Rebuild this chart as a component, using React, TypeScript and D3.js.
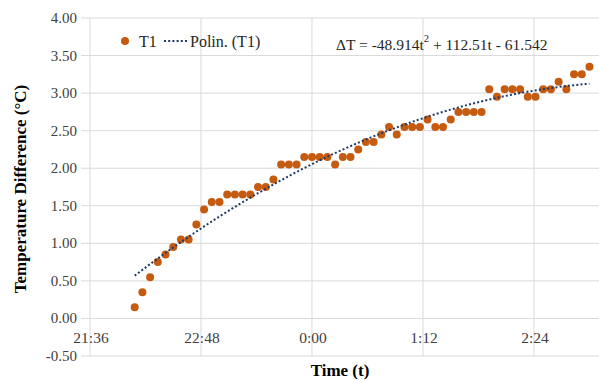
import React, { useEffect, useRef } from 'react';
import * as d3 from 'd3';

// time of each reading (h:mm), every 5 minutes through midnight
const times = [
  '22:05', '22:10', '22:15', '22:20', '22:25', '22:30', '22:35', '22:40', '22:45', '22:50',
  '22:55', '23:00', '23:05', '23:10', '23:15', '23:20', '23:25', '23:30', '23:35', '23:40',
  '23:45', '23:50', '23:55', '0:00', '0:05', '0:10', '0:15', '0:20', '0:25', '0:30',
  '0:35', '0:40', '0:45', '0:50', '0:55', '1:00', '1:05', '1:10', '1:15', '1:20',
  '1:25', '1:30', '1:35', '1:40', '1:45', '1:50', '1:55', '2:00', '2:05', '2:10',
  '2:15', '2:20', '2:25', '2:30', '2:35', '2:40', '2:45', '2:50', '2:55', '3:00',
];

const t1Values = [
  0.15, 0.35, 0.55, 0.75, 0.85, 0.95, 1.05, 1.05, 1.25, 1.45,
  1.55, 1.55, 1.65, 1.65, 1.65, 1.65, 1.75, 1.75, 1.85, 2.05,
  2.05, 2.05, 2.15, 2.15, 2.15, 2.15, 2.05, 2.15, 2.15, 2.25,
  2.35, 2.35, 2.45, 2.55, 2.45, 2.55, 2.55, 2.55, 2.65, 2.55,
  2.55, 2.65, 2.75, 2.75, 2.75, 2.75, 3.05, 2.95, 3.05, 3.05,
  3.05, 2.95, 2.95, 3.05, 3.05, 3.15, 3.05, 3.25, 3.25, 3.35,
];

// polynomial trendline (t in days): a*t^2 + b*t + c
const trendCoefs = [-48.914, 112.51, -61.542];

const xTickLabels = ['21:36', '22:48', '0:00', '1:12', '2:24'];
const yTicks = [-0.5, 0, 0.5, 1, 1.5, 2, 2.5, 3, 3.5, 4];

// h:mm -> fraction of a day (after midnight counts as the next day)
const toDays = (s: string) => {
  const [h, m] = s.split(':').map(Number);
  return (h < 12 ? 24 + h : h) / 24 + m / 1440;
};

const App: React.FC = () => {
  const svgRef = useRef<SVGSVGElement>(null);
  const width = 599;
  const height = 380;

  useEffect(() => {
    if (!svgRef.current) return;
    const svg = d3.select(svgRef.current);
    svg.selectAll('*').remove();

    const left = 90;
    const right = 599;
    const top = 18;
    const bottom = 356;
    const font = 'Times New Roman, Liberation Serif, serif';
    const grid = '#d9d9d9';
    const orange = '#c55a11';
    const navy = '#203864';

    const x = d3.scaleLinear().domain([0.9, 1.1293]).range([left, right]);
    const y = d3.scaleLinear().domain([-0.5, 4]).range([bottom, top]);

    const xTicks = xTickLabels.map(toDays);

    // horizontal gridlines (with short tick outside the axis)
    yTicks.forEach(v => {
      svg.append('line')
        .attr('x1', left - 9).attr('x2', right)
        .attr('y1', y(v)).attr('y2', y(v))
        .attr('stroke', grid).attr('stroke-width', 1);
      svg.append('text')
        .attr('x', 77).attr('y', y(v))
        .attr('text-anchor', 'end')
        .attr('dominant-baseline', 'central')
        .attr('font-family', font).attr('font-size', 15)
        .attr('fill', '#404040')
        .text(v.toFixed(2));
    });

    // vertical gridlines + time labels under the zero line
    xTicks.forEach((t, i) => {
      svg.append('line')
        .attr('x1', x(t)).attr('x2', x(t))
        .attr('y1', top).attr('y2', bottom)
        .attr('stroke', grid).attr('stroke-width', 1);
      svg.append('text')
        .attr('x', x(t) + 1).attr('y', y(0) + 19)
        .attr('text-anchor', 'middle')
        .attr('dominant-baseline', 'central')
        .attr('font-family', font).attr('font-size', 15.5)
        .attr('fill', '#404040')
        .text(xTickLabels[i]);
    });

    // scatter points
    const pts = times.map((s, i) => ({ t: toDays(s), v: t1Values[i] }));
    svg.append('g')
      .selectAll('circle')
      .data(pts)
      .enter()
      .append('circle')
      .attr('cx', d => x(d.t))
      .attr('cy', d => y(d.v))
      .attr('r', 4)
      .attr('fill', orange);

    // trendline
    const [a, b, c] = trendCoefs;
    const tMin = pts[0].t;
    const tMax = pts[pts.length - 1].t;
    const trend = d3.range(0, 101).map(i => {
      const t = tMin + ((tMax - tMin) * i) / 100;
      return [t, a * t * t + b * t + c] as [number, number];
    });
    svg.append('path')
      .datum(trend)
      .attr('d', d3.line<[number, number]>().x(d => x(d[0])).y(d => y(d[1])))
      .attr('fill', 'none')
      .attr('stroke', navy)
      .attr('stroke-width', 2)
      .attr('stroke-dasharray', '2 2.2');

    // legend
    svg.append('circle').attr('cx', 125).attr('cy', 41).attr('r', 4).attr('fill', orange);
    svg.append('text')
      .attr('x', 139).attr('y', 41)
      .attr('dominant-baseline', 'central')
      .attr('font-family', font).attr('font-size', 16).attr('fill', '#262626')
      .text('T1');
    svg.append('line')
      .attr('x1', 164).attr('x2', 188).attr('y1', 41).attr('y2', 41)
      .attr('stroke', navy).attr('stroke-width', 2).attr('stroke-dasharray', '2 2.2');
    svg.append('text')
      .attr('x', 190).attr('y', 41)
      .attr('dominant-baseline', 'central')
      .attr('font-family', font).attr('font-size', 16).attr('fill', '#262626')
      .text('Polin. (T1)');

    // equation
    const eq = svg.append('text')
      .attr('x', 336).attr('y', 44)
      .attr('dominant-baseline', 'central')
      .attr('font-family', font).attr('font-size', 15.5).attr('fill', '#262626');
    eq.append('tspan').text('ΔT = -48.914t');
    eq.append('tspan').attr('dy', -6).attr('font-size', 10.5).text('2');
    eq.append('tspan').attr('dy', 6).text(' + 112.51t - 61.542');

    // axis titles
    svg.append('text')
      .attr('x', 340).attr('y', 370)
      .attr('text-anchor', 'middle')
      .attr('dominant-baseline', 'central')
      .attr('font-family', font).attr('font-size', 17).attr('font-weight', 'bold')
      .text('Time (t)');
    svg.append('text')
      .attr('transform', `translate(20,${(top + bottom) / 2 + 2}) rotate(-90)`)
      .attr('text-anchor', 'middle')
      .attr('dominant-baseline', 'central')
      .attr('font-family', font).attr('font-size', 17).attr('font-weight', 'bold')
      .text('Temperature Difference (°C)');
  }, []);

  return (
    <svg
      ref={svgRef}
      width={width}
      height={height}
      style={{ position: 'absolute', left: 0, top: 0, background: '#ffffff' }}
    />
  );
};

export default App;
